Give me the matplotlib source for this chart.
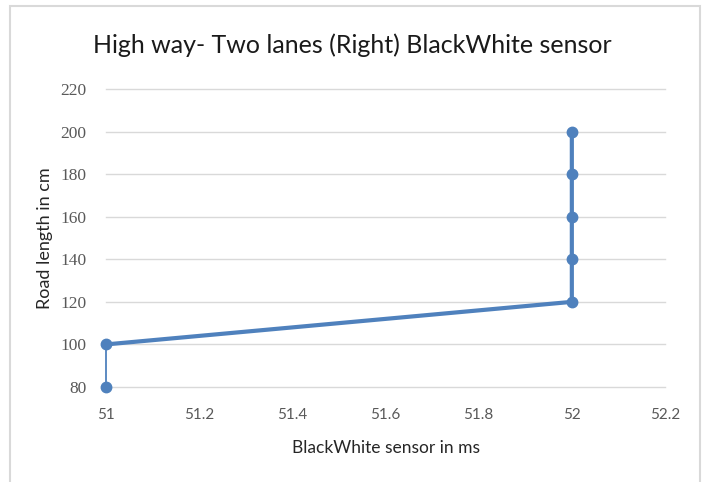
import matplotlib.pyplot as plt
from matplotlib.patches import Rectangle

# sensor readings (ms) against road length (cm)
sensor_ms = [51, 51, 52, 52, 52, 52, 52]
road_cm = [80, 100, 120, 140, 160, 180, 200]

x_ticks = [51, 51.2, 51.4, 51.6, 51.8, 52, 52.2]
x_tick_labels = ["51", "51.2", "51.4", "51.6", "51.8", "52", "52.2"]
y_ticks = [80, 100, 120, 140, 160, 180, 200, 220]

blue = "#4F81BD"
grey_txt = "#595959"
plt.rcParams["font.family"] = ["Lato", "DejaVu Sans"]

fig = plt.figure(figsize=(7.05, 4.82), dpi=100)
fig.patches.append(Rectangle((10 / 705, -0.1), 690 / 705, 1.1 - 6 / 482,
                             transform=fig.transFigure, fill=False,
                             edgecolor="#D9D9D9", linewidth=1.5))

ax = fig.add_axes([106 / 705, 1 - 387 / 482, 559 / 705, 298 / 482])

# first segment is drawn thinner than the rest
ax.plot(sensor_ms[:2], road_cm[:2], color=blue, lw=1.3, zorder=3, clip_on=False)
ax.plot(sensor_ms[1:], road_cm[1:], color=blue, lw=3, zorder=3, clip_on=False)
ax.plot(sensor_ms, road_cm, "o", color=blue, ms=7.5, zorder=4, clip_on=False)

ax.set_xlim(51, 52.2)
ax.set_ylim(80, 220)
ax.set_xticks(x_ticks)
ax.set_xticklabels(x_tick_labels)
ax.set_yticks(y_ticks)
ax.yaxis.grid(True, color="#D9D9D9", lw=1, clip_on=False)
ax.set_axisbelow(True)
for s in ax.spines.values():
    s.set_visible(False)
ax.tick_params(length=0, colors=grey_txt, labelsize=11)
ax.tick_params(axis="x", pad=15)
ax.tick_params(axis="y", pad=14)
for lab in ax.get_yticklabels():
    lab.set_fontfamily(["Liberation Serif", "DejaVu Serif"])
    lab.set_fontsize(12.5)

ax.set_xlabel("BlackWhite sensor in ms", fontsize=12.5, color="#262626", labelpad=13)
ax.set_ylabel("Road length in cm", fontsize=13, color="#262626", labelpad=5)

fig.text(352 / 705, 1 - 45 / 482, "High way- Two lanes (Right) BlackWhite sensor",
         ha="center", va="center", fontsize=18, color="#1a1a1a")

fig.savefig("out.png", dpi=100, facecolor="white")
